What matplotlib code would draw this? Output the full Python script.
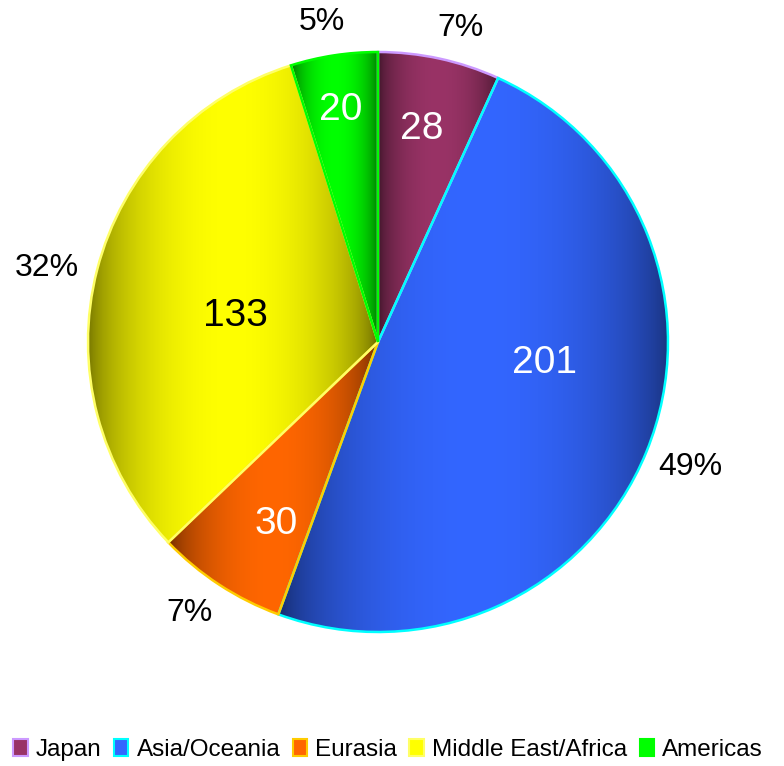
import numpy as np
import matplotlib.pyplot as plt
from matplotlib.patches import Patch

plt.rcParams['font.family'] = ['Liberation Sans', 'DejaVu Sans']

regions = ['Japan', 'Asia/Oceania', 'Eurasia', 'Middle East/Africa', 'Americas']
counts = [28, 201, 30, 133, 20]
face_colors = ['#993366', '#3366FF', '#FF6600', '#FFFF00', '#00FF00']
edge_colors = ['#CC99FF', '#00FFFF', '#FFCC00', '#FFFF66', '#00FF00']
value_colors = ['white', 'white', 'white', 'black', 'white']


def hex_rgb(h):
    h = h.lstrip('#')
    return np.array([int(h[i:i + 2], 16) / 255 for i in (0, 2, 4)])


def main():
    fig = plt.figure(figsize=(7.84, 7.66), dpi=100)
    ax = fig.add_axes([88 / 784, 134 / 766, 580 / 784, 580 / 766])
    wedges, _ = ax.pie(counts, startangle=90, counterclock=False, radius=1,
                       colors=face_colors, wedgeprops=dict(linewidth=0))
    ax.set_xlim(-1, 1)
    ax.set_ylim(-1, 1)
    ax.axis('off')

    # horizontal gradient (dark - bright - dark) clipped to each wedge
    t = np.linspace(0, 1, 256)
    shade = 0.35 + 0.65 * np.sin(np.pi * t) ** 0.5
    for w, fc in zip(wedges, face_colors):
        verts = w.get_patch_transform().transform(w.get_path().vertices)
        x0, x1 = verts[:, 0].min(), verts[:, 0].max()
        y0, y1 = verts[:, 1].min(), verts[:, 1].max()
        img = shade[None, :, None] * hex_rgb(fc)[None, None, :]
        img = np.repeat(img, 2, axis=0)
        im = ax.imshow(img, extent=(x0, x1, y0, y1), aspect='auto',
                       interpolation='bilinear', zorder=2)
        im.set_clip_path(w)
        w.set_facecolor('none')

    for w, ec in zip(wedges, edge_colors):
        w.set_edgecolor(ec)
        w.set_linewidth(1.8)
        w.set_zorder(3)

    total = sum(counts)
    value_r = [0.75, 0.58, 0.72, 0.50, 0.81]
    value_shift = [0.5, 15, 4, 4, 0.5]
    pct_r = [1.12, 1.16, 1.14, 1.17, 1.12]
    pct_shift = [-2.4, 0.5, -1.6, 1.8, 1.2]
    for i, w in enumerate(wedges):
        mid = (w.theta1 + w.theta2) / 2
        a = np.deg2rad(mid + value_shift[i])
        ax.text(value_r[i] * np.cos(a), value_r[i] * np.sin(a), str(counts[i]),
                ha='center', va='center', fontsize=28, color=value_colors[i],
                zorder=4)
        a = np.deg2rad(mid + pct_shift[i])
        pct = '%d%%' % round(100 * counts[i] / total)
        ax.text(pct_r[i] * np.cos(a), pct_r[i] * np.sin(a), pct,
                ha='center', va='center', fontsize=23, color='black',
                clip_on=False, zorder=4)

    handles = [Patch(facecolor=fc, edgecolor=ec, linewidth=1.5)
               for fc, ec in zip(face_colors, edge_colors)]
    fig.legend(handles, regions, loc='center', bbox_to_anchor=(0.495, 16 / 766),
               ncol=5, frameon=False, fontsize=17.5, handlelength=0.6,
               handleheight=0.68, handletextpad=0.34, columnspacing=0.5,
               borderaxespad=0)

    fig.savefig('out.png', dpi=100)


if __name__ == '__main__':
    main()
